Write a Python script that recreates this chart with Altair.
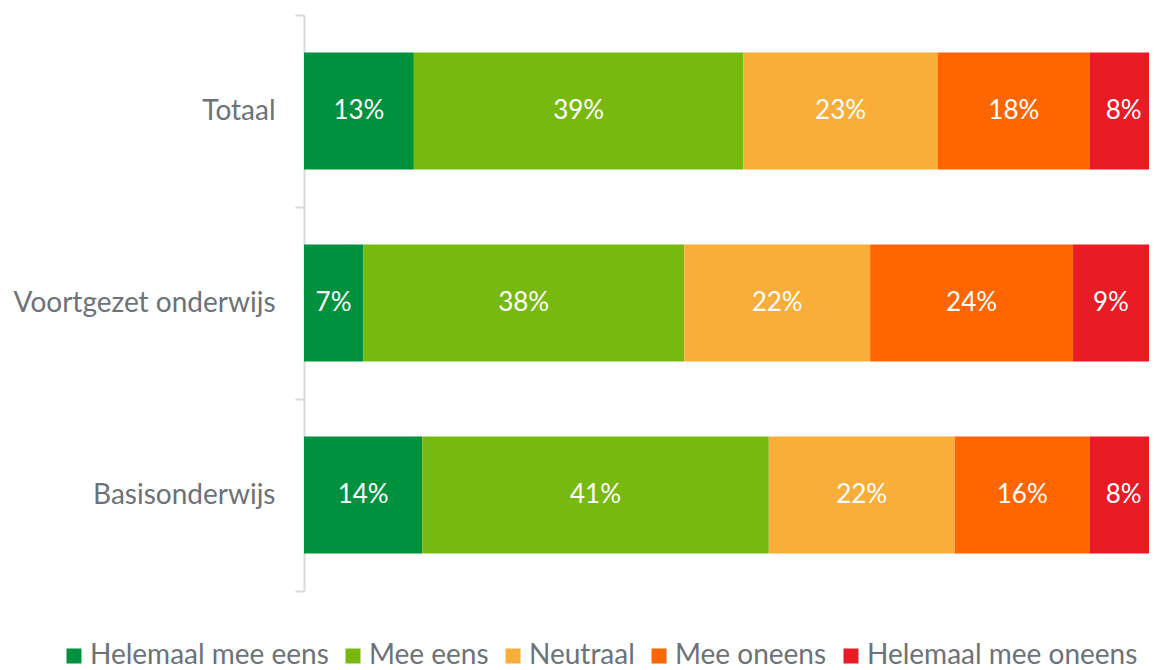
import altair as alt
import pandas as pd

groups = ["Totaal", "Voortgezet onderwijs", "Basisonderwijs"]
categories = ["Helemaal mee eens", "Mee eens", "Neutraal", "Mee oneens", "Helemaal mee oneens"]
colors = ["#00913F", "#78B90F", "#F8AE38", "#FF6600", "#E91B25"]
totaal = [13, 39, 23, 18, 8]
voortgezet = [7, 38, 22, 24, 9]
basis = [14, 41, 22, 16, 8]

rows = []
for g, vals in zip(groups, [totaal, voortgezet, basis]):
    for i, (c, v) in enumerate(zip(categories, vals)):
        rows.append({"group": g, "cat": c, "order": i, "value": v})
df = pd.DataFrame(rows)

FONT = "Lato"
GRAY = "#6B7279"

base = alt.Chart(df).transform_window(
    cum="sum(value)", sort=[{"field": "order"}], groupby=["group"], frame=[None, 0]
).transform_calculate(
    x0="datum.cum - datum.value",
    x1="datum.cum",
    mid="datum.cum - datum.value / 2",
    label="datum.value + '%'",
)

xscale = alt.Scale(domain=[0, 100])

yenc = alt.Y(
    "group:N",
    sort=groups,
    scale=alt.Scale(paddingInner=0, paddingOuter=0),
    axis=alt.Axis(
        title=None,
        domainColor="#D9D9D9",
        domainWidth=2,
        tickColor="#D9D9D9",
        tickWidth=2,
        tickSize=9,
        tickBand="extent",
        labelFontSize=28,
        labelColor=GRAY,
        labelFont=FONT,
        labelPadding=20,
        labelLimit=400,
    ),
)

bars = base.mark_bar(clip=True, height=alt.RelativeBandSize(0.61)).encode(
    x=alt.X("x0:Q", scale=xscale, axis=None),
    x2="x1:Q",
    y=yenc,
    color=alt.Color(
        "cat:N",
        scale=alt.Scale(domain=categories, range=colors),
        legend=alt.Legend(
            title=None,
            orient="none",
            legendX=-244,
            legendY=627,
            direction="horizontal",
            symbolType="square",
            symbolSize=225,
            symbolStrokeWidth=0,
            labelFontSize=28,
            labelFont=FONT,
            labelColor=GRAY,
            labelOffset=2,
            labelLimit=400,
            columnPadding=10,
        ),
    ),
    order=alt.Order("order:Q"),
)

labels = base.mark_text(color="white", fontSize=26, font=FONT).encode(
    x=alt.X("mid:Q", scale=xscale),
    y=alt.Y("group:N", sort=groups),
    text="label:N",
)

chart = alt.layer(bars, labels).properties(
    width=845,
    height=576,
    autosize=alt.AutoSizeParams(type="none"),
    padding={"left": 296, "top": 7, "right": 0, "bottom": 79},
).configure_view(stroke=None)

chart.save("out.html", embed_options={"renderer": "svg", "actions": False})
